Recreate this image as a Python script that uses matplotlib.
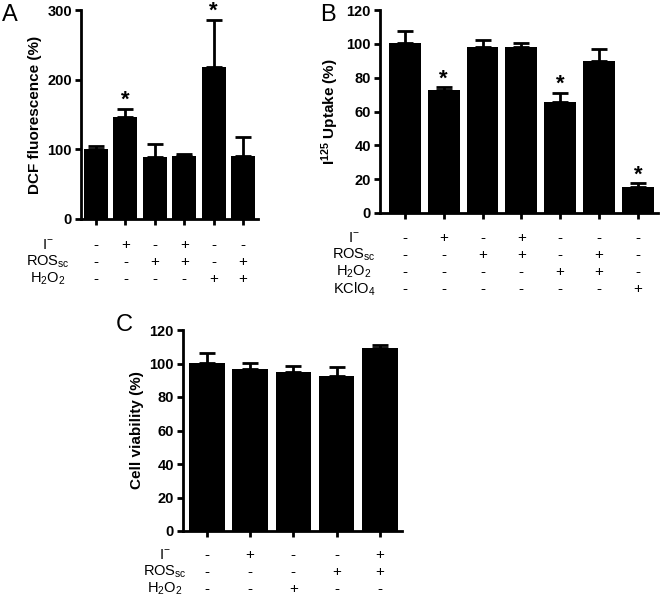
import matplotlib
matplotlib.use("Agg")
import matplotlib.pyplot as plt
import matplotlib.transforms as mtransforms
import numpy as np

plt.rcParams['font.family'] = ['Liberation Sans', 'DejaVu Sans']
plt.rcParams['mathtext.fontset'] = 'custom'
plt.rcParams['mathtext.rm'] = 'Liberation Sans'
plt.rcParams['mathtext.it'] = 'Liberation Sans:italic'
plt.rcParams['mathtext.bf'] = 'Liberation Sans:bold'

# Panel A - DCF fluorescence
a_means = [101, 146, 89, 90, 218, 90]
a_sem = [4, 12, 18, 3.5, 68, 28]
a_stars = [1, 4]
a_rows = ["I$^{-}$", "ROS$_{\\mathrm{sc}}$", "H$_2$O$_2$"]
a_signs = [["-", "+", "-", "+", "-", "-"],
           ["-", "-", "+", "+", "-", "+"],
           ["-", "-", "-", "-", "+", "+"]]

# Panel B - I125 uptake
b_means = [100.7, 72.8, 98.4, 98, 65.9, 89.9, 15.3]
b_sem = [7.1, 1.4, 3.9, 2.3, 5.3, 7.3, 2.4]
b_stars = [1, 4, 6]
b_rows = ["I$^{-}$", "ROS$_{\\mathrm{sc}}$", "H$_2$O$_2$", "KClO$_4$"]
b_signs = [["-", "+", "-", "+", "-", "-", "-"],
           ["-", "-", "+", "+", "-", "+", "-"],
           ["-", "-", "-", "-", "+", "+", "-"],
           ["-", "-", "-", "-", "-", "-", "+"]]

# Panel C - cell viability
c_means = [100.5, 96.5, 95.1, 92.5, 109.5]
c_sem = [6, 3.6, 3.4, 5.4, 1.3]
c_stars = []
c_rows = ["I$^{-}$", "ROS$_{\\mathrm{sc}}$", "H$_2$O$_2$"]
c_signs = [["-", "+", "-", "-", "+"],
           ["-", "-", "-", "+", "+"],
           ["-", "-", "+", "-", "-"]]

W, H = 660, 598
fig = plt.figure(figsize=(W / 100, H / 100), dpi=100)


def px_axes(left, top, right, bottom):
    return fig.add_axes([left / W, 1 - bottom / H, (right - left) / W,
                         (bottom - top) / H])


def bar_panel(ax, means, sem, stars, ylabel, yticks, xlim):
    ind = np.arange(len(means))
    ax.bar(ind, means, width=0.82, color="black", zorder=2)
    ax.errorbar(ind, means, yerr=[np.zeros(len(sem)), sem], fmt="none",
                ecolor="black", elinewidth=2, capsize=5.5, capthick=2,
                zorder=1)
    for i in stars:
        ax.annotate("*", xy=(i, means[i] + sem[i]), xytext=(0, 2),
                    textcoords="offset points", ha="center", va="baseline",
                    fontsize=16, fontweight="bold", annotation_clip=False)
    ax.set_xlim(*xlim)
    ax.set_ylim(yticks[0], yticks[-1])
    ax.set_yticks(yticks)
    ax.set_xticks(ind)
    ax.set_xticklabels([])
    for s in ["top", "right"]:
        ax.spines[s].set_visible(False)
    for s in ["left", "bottom"]:
        ax.spines[s].set_linewidth(2)
    ax.tick_params(axis="both", width=2, length=4.5, labelsize=10.5, pad=2)
    for t in ax.get_yticklabels():
        t.set_fontweight("bold")
    ax.set_ylabel(ylabel, fontsize=11, fontweight="bold", labelpad=4)


def sign_table(ax, rows, signs, label_x, row_y):
    trans = mtransforms.blended_transform_factory(ax.transData,
                                                  fig.transFigure)
    for r, name in enumerate(rows):
        y = 1 - row_y[r] / H
        fig.text(label_x / W, y, name, ha="center", va="center",
                 fontsize=10.5)
        for i, s in enumerate(signs[r]):
            ax.text(i, y, s, transform=trans, ha="center", va="center",
                    fontsize=11, clip_on=False)


ax_a = px_axes(81, 10, 258, 219)
bar_panel(ax_a, a_means, a_sem, a_stars, "DCF fluorescence (%)",
          [0, 100, 200, 300], (-0.51, 5.51))
sign_table(ax_a, a_rows, a_signs, 48, [245, 262, 279])

ax_b = px_axes(380, 10, 658, 213)
bar_panel(ax_b, b_means, b_sem, b_stars,
          r"$\mathbf{I^{125}}$ Uptake (%)",
          [0, 20, 40, 60, 80, 100, 120], (-0.64, 6.52))
sign_table(ax_b, b_rows, b_signs, 354, [238, 255, 272, 289])

ax_c = px_axes(183, 330, 402, 531)
bar_panel(ax_c, c_means, c_sem, c_stars, "Cell viability (%)",
          [0, 20, 40, 60, 80, 100, 120], (-0.55, 4.51))
sign_table(ax_c, c_rows, c_signs, 165, [555, 572, 589])

fig.text(2 / W, 1 - 15 / H, "A", fontsize=17, va="center", ha="left")
fig.text(320 / W, 1 - 15 / H, "B", fontsize=17, va="center", ha="left")
fig.text(116 / W, 1 - 325 / H, "C", fontsize=17, va="center", ha="left")

fig.savefig("out.png", dpi=100)
